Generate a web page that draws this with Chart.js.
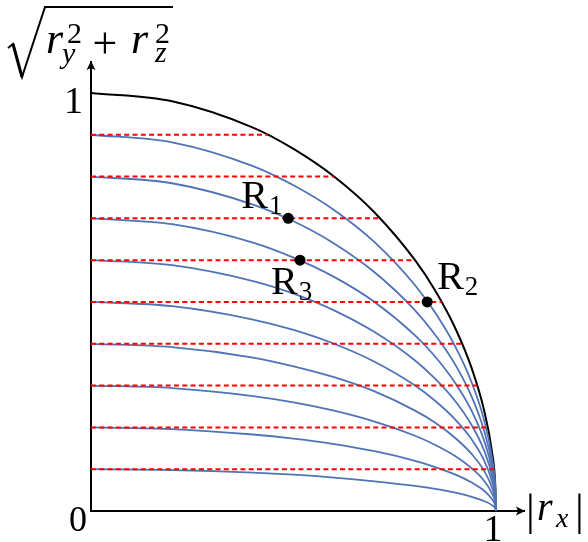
<!DOCTYPE html>
<html>
<head>
<meta charset="utf-8">
<script src="https://cdn.jsdelivr.net/npm/chart.js@4.4.0/dist/chart.umd.min.js"></script>
<style>
  body { margin: 0; background: #fff; }
</style>
</head>
<body>
<canvas id="ellipse_chart" width="588" height="542"></canvas>
<script>
// Abscisses |r_x| des points lus sur chaque courbe
var xs = [0, 0.2, 0.4, 0.5, 0.6, 0.7, 0.8, 0.85, 0.9, 0.94, 0.97, 0.99, 0.998, 1];

// Quart de cercle (noir)
var circle = [1, 0.980, 0.917, 0.866, 0.800, 0.714, 0.600, 0.527, 0.436, 0.341, 0.243, 0.141, 0.063, 0];

// Courbes bleues, de haut en bas
var curve90 = [0.9, 0.882, 0.825, 0.779, 0.720, 0.643, 0.540, 0.474, 0.392, 0.307, 0.219, 0.127, 0.057, 0];
var curve80 = [0.8, 0.784, 0.733, 0.693, 0.640, 0.571, 0.480, 0.421, 0.349, 0.273, 0.194, 0.113, 0.051, 0];
var curve70 = [0.7, 0.686, 0.642, 0.606, 0.560, 0.500, 0.420, 0.369, 0.305, 0.239, 0.170, 0.099, 0.044, 0];
var curve60 = [0.6, 0.588, 0.550, 0.520, 0.480, 0.428, 0.360, 0.316, 0.262, 0.205, 0.146, 0.085, 0.038, 0];
var curve50 = [0.5, 0.490, 0.458, 0.433, 0.400, 0.357, 0.300, 0.263, 0.218, 0.171, 0.122, 0.071, 0.032, 0];
var curve40 = [0.4, 0.392, 0.367, 0.346, 0.320, 0.286, 0.240, 0.211, 0.174, 0.136, 0.097, 0.056, 0.025, 0];
var curve30 = [0.3, 0.294, 0.275, 0.260, 0.240, 0.214, 0.180, 0.158, 0.131, 0.102, 0.073, 0.042, 0.019, 0];
var curve20 = [0.2, 0.196, 0.183, 0.173, 0.160, 0.143, 0.120, 0.105, 0.087, 0.068, 0.049, 0.028, 0.013, 0];
var curve10 = [0.1, 0.098, 0.092, 0.087, 0.080, 0.071, 0.060, 0.053, 0.044, 0.034, 0.024, 0.014, 0.006, 0];
var curves = [curve90, curve80, curve70, curve60, curve50, curve40, curve30, curve20, curve10];

// Lignes rouges pointillées : hauteur et fin (sur le cercle)
var levels = [0.9, 0.8, 0.7, 0.6, 0.5, 0.4, 0.3, 0.2, 0.1];
var levelEnds = [0.436, 0.600, 0.714, 0.800, 0.866, 0.917, 0.954, 0.980, 0.995];

// Points R1, R2, R3
var ptX = [0.487, 0.830, 0.516];
var ptY = [0.700, 0.500, 0.600];
var ptNames = ["1", "2", "3"];

var BLUE = "rgb(80, 115, 182)";
var RED = "rgb(255, 0, 0)";

function toPoints(x, y) {
  var out = [];
  for (var i = 0; i < x.length; i++) out.push({x: x[i], y: y[i]});
  return out;
}

var datasets = [];
datasets.push({
  data: toPoints(ptX, ptY),
  showLine: false,
  pointRadius: 5.5,
  pointBackgroundColor: "#000",
  pointBorderWidth: 0,
  order: 0
});
for (var i = 0; i < levels.length; i++) {
  datasets.push({
    data: [{x: 0, y: levels[i]}, {x: levelEnds[i], y: levels[i]}],
    showLine: true,
    borderColor: RED,
    borderWidth: 2,
    borderDash: [5, 3.3],
    pointRadius: 0,
    order: 1
  });
}
for (var j = 0; j < curves.length; j++) {
  datasets.push({
    data: toPoints(xs, curves[j]),
    showLine: true,
    borderColor: BLUE,
    borderWidth: 1.8,
    cubicInterpolationMode: "monotone",
    pointRadius: 0,
    order: 2
  });
}
datasets.push({
  data: toPoints(xs, circle),
  showLine: true,
  borderColor: "#000",
  borderWidth: 2,
  cubicInterpolationMode: "monotone",
  pointRadius: 0,
  order: 3
});

var SERIF = "\"Liberation Serif\"";

function txt(ctx, s, x, y, font, align) {
  ctx.font = font;
  ctx.textAlign = align || "left";
  ctx.textBaseline = "alphabetic";
  ctx.fillText(s, x, y);
}

var decor = {
  id: "decor",
  afterDraw: function (chart) {
    var ctx = chart.ctx;
    var a = chart.chartArea;
    var sx = chart.scales.x, sy = chart.scales.y;
    var x0 = sx.getPixelForValue(0), y0 = sy.getPixelForValue(0);
    ctx.save();
    ctx.fillStyle = "#000";
    ctx.strokeStyle = "#000";

    // flèches des axes
    ctx.beginPath();
    ctx.moveTo(a.right + 1, y0);
    ctx.lineTo(a.right - 8, y0 - 4.5);
    ctx.lineTo(a.right - 6, y0);
    ctx.lineTo(a.right - 8, y0 + 4.5);
    ctx.closePath();
    ctx.fill();
    ctx.beginPath();
    ctx.moveTo(x0, a.top - 1);
    ctx.lineTo(x0 - 4.5, a.top + 8);
    ctx.lineTo(x0, a.top + 6);
    ctx.lineTo(x0 + 4.5, a.top + 8);
    ctx.closePath();
    ctx.fill();

    // graduations
    txt(ctx, "1", x0 - 8, sy.getPixelForValue(1) + 20, "38px " + SERIF, "right");
    txt(ctx, "0", x0 - 4, y0 + 20, "36px " + SERIF, "right");
    txt(ctx, "1", sx.getPixelForValue(1) - 3, y0 + 30, "38px " + SERIF, "center");

    // titre de l'axe x : |r_x|
    txt(ctx, "|", 526, 525, "44px " + SERIF);
    txt(ctx, "r", 537, 520, "italic 40px " + SERIF);
    txt(ctx, "x", 556, 527, "italic 28px " + SERIF);
    txt(ctx, "|", 575, 525, "44px " + SERIF);

    // titre de l'axe y : racine de r_y^2 + r_z^2
    ctx.lineWidth = 2;
    ctx.lineJoin = "miter";
    ctx.beginPath();
    ctx.moveTo(8, 48);
    ctx.lineTo(13, 44);
    ctx.lineTo(22, 77);
    ctx.lineTo(45, 7);
    ctx.lineTo(173, 7);
    ctx.stroke();
    ctx.lineWidth = 3;
    ctx.beginPath();
    ctx.moveTo(13, 44);
    ctx.lineTo(22, 77);
    ctx.stroke();
    txt(ctx, "r", 46, 53, "italic 44px " + SERIF);
    txt(ctx, "2", 67, 43, "30px " + SERIF);
    txt(ctx, "y", 62, 63, "italic 30px " + SERIF);
    txt(ctx, "+", 105, 58, "44px " + SERIF, "center");
    txt(ctx, "r", 131, 53, "italic 44px " + SERIF);
    txt(ctx, "2", 155, 43, "30px " + SERIF);
    txt(ctx, "z", 155, 62, "italic 30px " + SERIF);

    // étiquettes des points
    var lab = [[-47, -10], [10, -13], [-29, 34]];
    for (var k = 0; k < ptX.length; k++) {
      var px = sx.getPixelForValue(ptX[k]), py = sy.getPixelForValue(ptY[k]);
      ctx.font = "40px " + SERIF;
      var w = ctx.measureText("R").width;
      txt(ctx, "R", px + lab[k][0], py + lab[k][1], "40px " + SERIF);
      txt(ctx, ptNames[k], px + lab[k][0] + w + 1, py + lab[k][1] + 6, "27px " + SERIF);
    }
    ctx.restore();
  }
};

var ctx = document.getElementById("ellipse_chart");
var chart = new Chart(ctx, {
  type: "scatter",
  data: { datasets: datasets },
  options: {
    animation: false,
    responsive: false,
    layout: { padding: { left: 91, right: 64, top: 62, bottom: 31 } },
    plugins: { legend: { display: false }, tooltip: { enabled: false } },
    scales: {
      x: {
        type: "linear", min: 0, max: 1.069,
        grid: { display: false, drawTicks: false },
        ticks: { display: false },
        border: { color: "#000", width: 2 }
      },
      y: {
        type: "linear", min: 0, max: 1.074,
        grid: { display: false, drawTicks: false },
        ticks: { display: false },
        border: { color: "#000", width: 2 }
      }
    }
  },
  plugins: [decor]
});
</script>
</body>
</html>
